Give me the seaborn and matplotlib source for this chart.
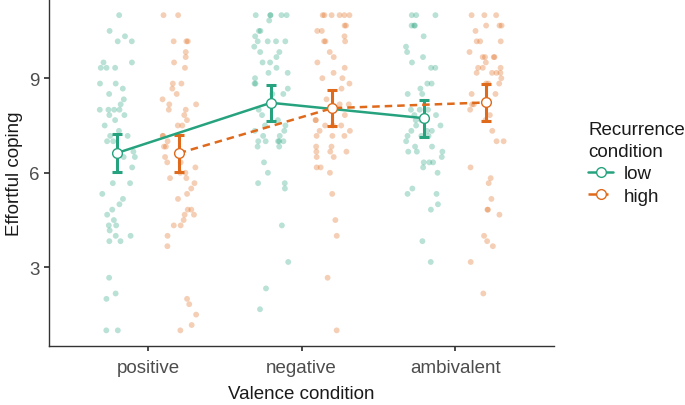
import numpy as np
import pandas as pd
import seaborn as sns
import matplotlib.pyplot as plt
from matplotlib.lines import Line2D

# categories and groups
valence = ["positive", "negative", "ambivalent"]
recurrence = ["low", "high"]

# raw scores
pos_low = [11.0, 10.33, 10.5, 10.17, 10.17, 9.5, 9.5, 9.33, 9.33, 9.33, 8.83, 8.83, 8.67, 8.5,
           8.33, 8.17, 8.0, 8.0, 8.0, 8.0, 7.83, 7.83, 7.67, 7.5, 7.33, 7.17, 7.17, 7.0, 7.0,
           6.67, 6.5, 6.5, 6.17, 5.67, 5.67, 5.33, 5.17, 5.0, 4.83, 4.67, 4.5, 4.33, 4.33, 4.17,
           4.0, 4.0, 3.83, 3.83, 2.67, 2.17, 2.0, 1.0, 1.0]
pos_high = [11.0, 11.0, 10.17, 10.17, 10.17, 9.83, 9.67, 9.5, 9.33, 8.83, 8.83, 8.67, 8.5, 8.33,
            8.17, 8.17, 8.0, 8.0, 7.83, 7.67, 7.5, 7.5, 7.17, 7.17, 7.0, 6.83, 6.83, 6.5, 6.33,
            6.33, 6.17, 6.0, 6.0, 5.83, 5.83, 5.67, 5.5, 5.33, 5.17, 4.83, 4.83, 4.67, 4.67, 4.5,
            4.33, 4.33, 4.0, 3.67, 2.0, 1.83, 1.5, 1.17, 1.0]
neg_low = [11.0, 11.0, 11.0, 11.0, 11.0, 10.83, 10.5, 10.5, 10.33, 10.17, 10.17, 10.17, 10.17,
           10.0, 9.83, 9.83, 9.67, 9.5, 9.5, 9.33, 9.17, 9.17, 9.0, 8.83, 8.83, 8.67, 8.5, 8.5,
           8.0, 7.83, 7.67, 7.5, 7.5, 7.33, 7.33, 7.17, 7.17, 7.0, 7.0, 7.0, 7.0, 7.0, 6.83, 6.83,
           6.33, 6.0, 5.67, 5.67, 5.5, 4.33, 3.17, 2.33, 1.67]
neg_high = [11.0, 11.0, 11.0, 11.0, 11.0, 11.0, 10.67, 10.67, 10.5, 10.5, 10.33, 10.17, 10.17,
            10.17, 9.83, 9.67, 9.5, 9.33, 9.17, 9.0, 9.0, 8.83, 8.67, 8.33, 8.17, 8.17, 7.83,
            7.67, 7.67, 7.5, 7.5, 7.5, 7.33, 7.33, 7.17, 7.17, 7.17, 6.83, 6.83, 6.67, 6.67,
            6.67, 6.5, 6.5, 6.17, 6.17, 6.0, 5.33, 4.5, 4.0, 2.67, 1.0]
amb_low = [11.0, 11.0, 11.0, 10.67, 10.67, 10.67, 10.33, 10.0, 9.83, 9.67, 9.5, 9.33, 9.33, 8.83,
           8.83, 8.67, 8.5, 8.5, 8.0, 8.0, 8.0, 7.83, 7.83, 7.67, 7.67, 7.5, 7.5, 7.33, 7.33,
           7.33, 7.17, 7.17, 7.17, 7.0, 6.83, 6.83, 6.67, 6.67, 6.67, 6.5, 6.33, 6.33, 6.33,
           6.17, 6.0, 5.5, 5.33, 5.33, 5.0, 4.83, 3.83, 3.17]
amb_high = [11.0, 11.0, 11.0, 10.67, 10.67, 10.67, 10.5, 10.17, 10.17, 10.17, 9.83, 9.67, 9.67,
            9.67, 9.67, 9.5, 9.33, 9.33, 9.33, 9.17, 9.17, 9.17, 9.17, 9.0, 8.83, 8.83, 8.83,
            8.5, 8.5, 8.17, 8.17, 8.17, 8.0, 7.83, 7.67, 7.33, 7.0, 7.0, 6.17, 5.83, 5.67, 5.17,
            4.83, 4.83, 4.67, 4.0, 3.83, 3.67, 3.17, 2.17]

# estimated means and CI half widths
mean_low = [6.63, 8.22, 7.73]
mean_high = [6.62, 8.05, 8.23]
ci_low = [0.60, 0.58, 0.59]
ci_high = [0.58, 0.58, 0.60]

colors = {"low": "#26a37e", "high": "#e06a1b"}

raw = {("positive", "low"): pos_low, ("positive", "high"): pos_high,
       ("negative", "low"): neg_low, ("negative", "high"): neg_high,
       ("ambivalent", "low"): amb_low, ("ambivalent", "high"): amb_high}
rows = []
for (v, r), vals in raw.items():
    for y in vals:
        rows.append({"Valence": v, "Recurrence": r, "score": y})
df = pd.DataFrame(rows)

means = pd.DataFrame({
    "Valence": valence * 2,
    "Recurrence": ["low"] * 3 + ["high"] * 3,
    "score": mean_low + mean_high,
})

sns.set_theme(style="ticks")
plt.rcParams["font.family"] = ["Liberation Sans", "DejaVu Sans"]

fig, ax = plt.subplots(figsize=(6.85, 4.06), dpi=100)
fig.subplots_adjust(left=0.0715, right=0.809, bottom=0.145, top=0.999)

np.random.seed(3)
sns.stripplot(data=df, x="Valence", y="score", hue="Recurrence", order=valence,
              hue_order=recurrence, palette=colors, dodge=True, jitter=0.24,
              size=4.2, alpha=0.32, linewidth=0, ax=ax, legend=False, zorder=1)

# error bars
x = np.arange(len(valence))
for r, m, ci, off in [("low", mean_low, ci_low, -0.2), ("high", mean_high, ci_high, 0.2)]:
    ax.errorbar(x + off, m, yerr=ci, fmt="none", ecolor=colors[r], elinewidth=2.2,
                capsize=3.3, capthick=2.2, zorder=3)

dash = (0, (3, 2))
sns.pointplot(data=means, x="Valence", y="score", hue="Recurrence", order=valence,
              hue_order=recurrence, palette=colors, dodge=0.4, errorbar=None,
              markers="o", linestyles=["-", dash], markersize=7, linewidth=1.8,
              markerfacecolor="white", markeredgewidth=1.0, ax=ax, legend=False, zorder=4)

ax.set_xlim(-0.645, 2.645)
ax.set_ylim(0.5, 11.5)
ax.set_yticks([3, 6, 9])
ax.set_xlabel("Valence condition", fontsize=13.5, color="#1a1a1a", labelpad=6)
ax.set_ylabel("Effortful coping", fontsize=13.5, color="#1a1a1a", labelpad=4)
ax.tick_params(labelsize=13.5, labelcolor="#4d4d4d", color="#333333", length=3.5)
ax.tick_params(axis="x", pad=6)
for side in ["left", "bottom"]:
    ax.spines[side].set_color("#333333")
    ax.spines[side].set_linewidth(1.0)
sns.despine(ax=ax)

handles = [Line2D([], [], color=colors[r], linestyle=ls, linewidth=1.8, marker="o",
                  markersize=7, markerfacecolor="white", markeredgewidth=1.0)
           for r, ls in zip(recurrence, ["-", dash])]
leg = fig.legend(handles, recurrence, title="Recurrence\ncondition", loc="upper left",
                 bbox_to_anchor=(0.848, 0.718), frameon=False, fontsize=13.5,
                 title_fontsize=13.5, handlelength=1.3, handletextpad=0.6,
                 labelspacing=0.3, borderaxespad=0)
leg._legend_box.align = "left"
leg.get_title().set_color("#1a1a1a")
leg.get_title().set_linespacing(1.35)
for t in leg.get_texts():
    t.set_color("#1a1a1a")

fig.savefig("out.png", dpi=100)
